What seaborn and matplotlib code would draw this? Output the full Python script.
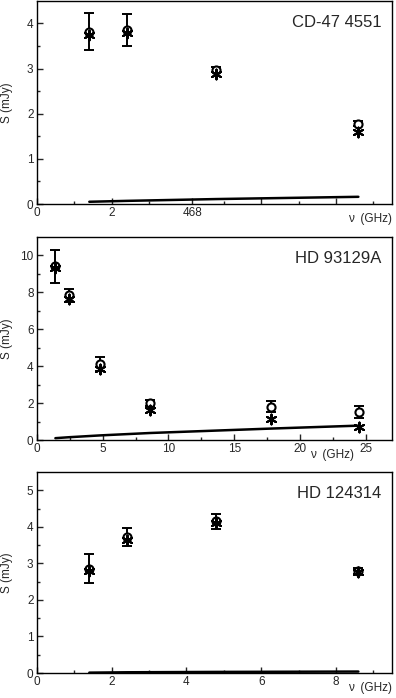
import matplotlib
matplotlib.use("Agg")
import matplotlib.pyplot as plt
import seaborn as sns
import pandas as pd

# frequencies (GHz)
freq_cd = [1.4, 2.4, 4.8, 8.6]
freq_hd93 = [1.4, 2.4, 4.8, 8.6, 17.8, 24.5]
freq_hd124 = [1.4, 2.4, 4.8, 8.6]

# CD-47 4551
obs_cd = [3.82, 3.85, 2.98, 1.78]
err_cd = [0.41, 0.36, 0.05, 0.06]
fit_cd = [3.75, 3.78, 2.88, 1.60]
wind_cd = [0.05, 0.07, 0.11, 0.16]

# HD 93129A
obs_hd93 = [9.4, 7.85, 4.1, 2.0, 1.8, 1.5]
err_hd93 = [0.9, 0.35, 0.38, 0.15, 0.3, 0.33]
fit_hd93 = [9.3, 7.65, 3.85, 1.6, 1.15, 0.7]
wind_hd93 = [0.10, 0.15, 0.25, 0.38, 0.62, 0.78]

# HD 124314
obs_hd124 = [2.85, 3.72, 4.15, 2.78]
err_hd124 = [0.4, 0.24, 0.2, 0.08]
fit_hd124 = [2.8, 3.65, 4.1, 2.75]
wind_hd124 = [0.01, 0.02, 0.03, 0.04]

sns.set_style("ticks")
plt.rcParams["font.family"] = ["Liberation Sans", "DejaVu Sans"]

fig = plt.figure(figsize=(3.96, 6.98), dpi=100)
ax1 = fig.add_axes([0.0934, 0.7077, 0.8965, 0.291])
ax2 = fig.add_axes([0.0934, 0.3696, 0.8965, 0.291])
ax3 = fig.add_axes([0.0934, 0.0358, 0.8965, 0.288])

panels = [
    (ax1, "CD-47 4551", freq_cd, obs_cd, err_cd, fit_cd, wind_cd),
    (ax2, "HD 93129A", freq_hd93, obs_hd93, err_hd93, fit_hd93, wind_hd93),
    (ax3, "HD 124314", freq_hd124, obs_hd124, err_hd124, fit_hd124, wind_hd124),
]

for ax, name, nu, obs, err, fit, wind in panels:
    df = pd.DataFrame({"nu": nu, "obs": obs, "err": err, "fit": fit, "wind": wind})
    sns.lineplot(data=df, x="nu", y="wind", ax=ax, color="black", linewidth=1.8)
    ax.errorbar(df["nu"], df["obs"], yerr=df["err"], fmt="none", ecolor="black",
                elinewidth=1.4, capsize=3.5, capthick=1.4)
    sns.scatterplot(data=df, x="nu", y="obs", ax=ax, marker="o", s=34,
                    facecolor="white", edgecolor="black", linewidth=1.5, zorder=3)
    sns.scatterplot(data=df, x="nu", y="fit", ax=ax, marker=(6, 2, 0), s=50,
                    color="black", linewidth=1.5, zorder=4)
    ax.text(0.97, 0.93, name, transform=ax.transAxes, ha="right", va="top", fontsize=12)
    ax.set_xlabel("")
    ax.set_ylabel("S (mJy)", fontsize=8.5)
    ax.yaxis.set_label_coords(-0.068, 0.5)
    for s in ax.spines.values():
        s.set_linewidth(1.0)
        s.set_color("black")
    ax.tick_params(axis="both", which="both", direction="in", labelsize=8.5, pad=2.5)
    ax.tick_params(which="major", length=4, width=1)
    ax.tick_params(which="minor", length=2, width=1)

# panel 1
ax1.set_xlim(0, 9.5)
ax1.set_ylim(0, 4.5)
ax1.set_xticks([0, 2, 4.16, 6, 8])
ax1.set_xticklabels(["0", "2", "468", "", ""])
ax1.set_xticks([1, 3, 5, 7, 9], minor=True)
ax1.set_yticks([0, 1, 2, 3, 4])
ax1.set_yticks([0.5, 1.5, 2.5, 3.5], minor=True)

# panel 2
ax2.set_xlim(0, 27)
ax2.set_ylim(0, 11)
ax2.set_xticks([0, 5, 10, 15, 20, 25])
ax2.set_xticks([2.5, 7.5, 12.5, 17.5, 22.5], minor=True)
ax2.set_yticks([0, 2, 4, 6, 8, 10])
ax2.set_yticks([1, 3, 5, 7, 9], minor=True)

# panel 3
ax3.set_xlim(0, 9.5)
ax3.set_ylim(0, 5.5)
ax3.set_xticks([0, 2, 4, 6, 8])
ax3.set_xticks([1, 3, 5, 7, 9], minor=True)
ax3.set_yticks([0, 1, 2, 3, 4, 5])
ax3.set_yticks([0.5, 1.5, 2.5, 3.5, 4.5], minor=True)

ax1.text(0.875, -0.045, "ν  (GHz)", transform=ax1.transAxes, ha="left", va="top", fontsize=8.5)
ax2.text(0.77, -0.045, "ν  (GHz)", transform=ax2.transAxes, ha="left", va="top", fontsize=8.5)
ax3.text(0.875, -0.045, "ν  (GHz)", transform=ax3.transAxes, ha="left", va="top", fontsize=8.5)

fig.savefig("out.png", dpi=100)
